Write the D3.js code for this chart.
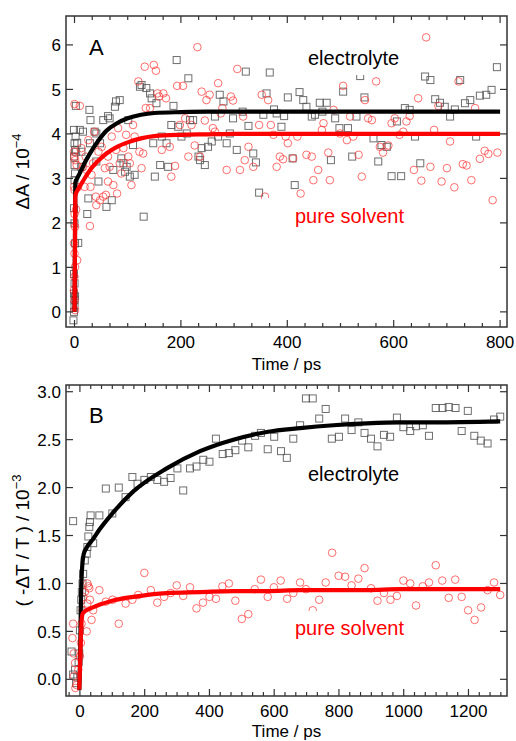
<!DOCTYPE html>
<html><head><meta charset="utf-8">
<script src="https://cdn.jsdelivr.net/npm/d3@7"></script>
<style>html,body{margin:0;padding:0;background:#fff;}svg{display:block;font-family:"Liberation Sans",Arial,sans-serif;}</style>
</head><body>
<svg id="chart" width="516" height="741"></svg>
<script>
// ---------- Panel A data ----------
const xTicksA = [0, 200, 400, 600, 800];
const yTicksA = [0, 1, 2, 3, 4, 5, 6];
const elecA = [[-2,-0.19],[-1,0.0],[0,0.15],[0,0.26],[1,0.35],[-1,0.41],[0,0.64],[-1,0.85],[1,1.54],[0,1.99],[-1,2.33],[0,2.96],[1,3.11],[0,3.3],[-1,3.49],[1,3.64],[0,3.79],[2,3.94],[-1,4.09],[7,1.55],[2.5,4.63],[3,3.6],[5,3.8],
[10,4.09],[13,3.6],[16,4.05],[13,3.26],[24,2.2],[26,2.55],[28,4.54],[30,4.31],[29,3.79],[38,4.05],[41,4.01],[45,2.93],[41,3.38],[48,3.79],[54,4.31],[60,2.36],[63,4.4],[66,4.35],[70,2.51],[73,3.19],[76,4.61],[78,4.73],[85,4.76],[88,3.45],[92,3.34],[95,3.15],[98,3.26],[101,4.31],[104,3.04],[110,3.75],[113,3.08],[123,5.06],[126,5.1],[130,2.14],[135,5.03],[142,4.91],[145,4.8],[148,3.79],[151,3.04],[154,4.69],[161,3.3],[164,3.94],[173,3.79],[176,3.26],[182,4.2],[186,4.63],[192,5.66],[195,4.16],[201,3.94],[211,4.01],[214,5.25],[217,4.31],[223,4.31],[233,3.49],[236,3.41],[239,3.68],[245,3.3],[251,3.71],[258,3.83],[264,4.39],[270,3.94],[273,4.88],[280,4.73],[286,3.79],[292,4.01],[298,4.35],[305,3.64],[316,4.5],[322,5.4],[327,4.18],[336,3.56],[341,3.36],[347,2.68],[355,4.43],[361,4.91],[367,5.38],[375,4.55],[380,4.46],[389,4.16],[394,4.4],[401,4.82],[410,3.45],[414,2.85],[423,4.94],[430,4.76],[436,4.61],[446,4.39],[452,4.43],[461,4.7],[466,4.5],[474,4.7],[482,3.41],[490,4.35],[498,4.13],[505,4.95],[514,4.13],[522,3.49],[530,4.39],[537,5.3],[545,4.82],[562,3.9],[571,3.38],[577,3.75],[587,3.71],[596,3.05],[606,4.28],[614,3.05],[621,4.58],[630,4.54],[640,3.94],[650,3.34],[659,5.29],[669,5.21],[678,4.78],[687,4.7],[696,4.61],[706,4.39],[715,4.55],[725,5.21],[734,4.69],[744,4.76],[755,3.94],[762,4.86],[774,4.88],[784,4.99],[794,5.5]];
const solvA = [[0,4.67],[-1,3.6],[0,3.49],[1,3.41],[-1,2.81],[0,2.74],[0,2.2],[1,1.91],[-1,1.54],[0,1.31],[1,1.01],[0,0.79],[-1,0.49],[0,0.26],[1,0.04],[5,1.16],[3,2.3],[6,2.8],[4,3.3],
[10,4.63],[13,3.68],[16,3.26],[19,2.81],[21,3.49],[23,3.19],[26,3.86],[29,1.93],[30,2.81],[32,3.08],[35,3.34],[37,4.05],[40,2.59],[41,2.4],[45,3.6],[48,2.51],[51,3.71],[54,2.59],[57,3.23],[59,2.63],[63,2.93],[63,3.49],[66,3.26],[70,3.94],[73,2.85],[78,3.64],[80,2.66],[82,4.13],[85,3.34],[88,3.11],[92,3.68],[97,3.98],[101,3.49],[104,3.34],[107,2.85],[110,4.2],[113,3.94],[120,5.18],[122,3.6],[126,3.23],[129,3.56],[132,5.51],[134,4.58],[142,4.58],[149,5.55],[153,5.42],[156,4.91],[159,4.84],[164,3.64],[167,4.91],[172,4.8],[179,3.71],[182,3.04],[189,3.28],[193,5.08],[198,4.2],[204,5.08],[208,4.35],[214,3.49],[220,4.2],[226,3.74],[231,5.95],[236,3.49],[239,4.95],[245,4.3],[248,4.76],[254,4.88],[260,4.13],[264,4.05],[270,5.14],[275,4.46],[278,4.58],[286,3.19],[294,4.84],[298,4.75],[306,5.46],[311,3.19],[317,4.39],[320,3.41],[327,3.71],[336,3.26],[347,4.2],[352,4.88],[358,2.59],[364,4.76],[369,4.2],[374,3.98],[380,3.26],[386,3.49],[392,3.43],[397,3.94],[401,3.79],[411,3.45],[419,3.94],[425,2.66],[436,3.53],[446,3.49],[449,2.96],[458,3.19],[465,4.09],[468,4.24],[477,3.58],[480,2.96],[487,4.54],[499,4.01],[505,5.08],[512,3.86],[518,4.39],[524,3.94],[534,3.53],[540,3.04],[546,4.76],[552,4.35],[559,4.31],[567,5.18],[574,3.71],[580,3.58],[590,3.74],[596,4.24],[602,4.35],[611,3.98],[618,4.05],[624,4.28],[630,4.4],[638,3.19],[646,4.8],[652,2.95],[661,6.17],[669,3.26],[676,4.09],[684,4.63],[690,2.93],[700,3.23],[706,3.83],[714,2.8],[722,5.18],[730,3.32],[737,3.29],[746,2.96],[753,4.58],[762,3.44],[771,3.62],[778,3.55],[786,2.51],[795,3.58]];
const fitA_t    = [0, 1.5, 5, 10, 20, 30, 45, 60, 80, 100, 125, 150, 200, 250, 300, 800];
const fitA_elec = [0, 2.9, 3.0, 3.12, 3.37, 3.58, 3.85, 4.07, 4.24, 4.35, 4.43, 4.47, 4.49, 4.5, 4.5, 4.5];
const fitA_solv = [0, 2.6, 2.72, 2.82, 3.02, 3.2, 3.4, 3.56, 3.71, 3.81, 3.9, 3.95, 3.98, 3.99, 4.0, 4.0];

// ---------- Panel B data ----------
const xTicksB = [0, 200, 400, 600, 800, 1000, 1200];
const yTicksB = [0, 0.5, 1.0, 1.5, 2.0, 2.5, 3.0];
const elecB = [[-26,0.29],[-21,0.05],[-15,0.1],[-12,-0.04],[-8,0.02],[-4,0.18],[-2,0.27],[0,0.51],[2,0.72],[4,0.83],[6,0.91],[8,1.0],[10,1.1],[15,1.24],[21,1.31],[23,1.38],[26,1.49],[29,1.59],[31,1.64],[33,1.71],[41,1.42],[-21,1.65],
[60,1.71],[80,1.99],[100,1.73],[120,2.0],[141,1.9],[162,2.11],[178,2.04],[199,2.08],[219,2.11],[239,2.08],[260,2.06],[280,2.1],[301,2.2],[319,1.97],[340,2.2],[360,2.22],[381,2.29],[400,2.27],[420,2.51],[441,2.35],[460,2.36],[480,2.39],[501,2.49],[520,2.42],[541,2.54],[559,2.57],[580,2.4],[600,2.53],[621,2.38],[639,2.31],[659,2.51],[680,2.65],[698,2.93],[719,2.93],[739,2.72],[759,2.82],[778,2.51],[800,2.53],[819,2.72],[839,2.6],[860,2.68],[879,2.57],[899,2.51],[919,2.43],[939,2.55],[958,2.53],[979,2.73],[999,2.63],[1020,2.59],[1038,2.64],[1059,2.65],[1078,2.54],[1099,2.83],[1120,2.83],[1139,2.84],[1160,2.83],[1179,2.59],[1198,2.8],[1218,2.54],[1238,2.49],[1259,2.46],[1279,2.71],[1298,2.74]];
const solvB = [[-21,0.58],[-23,0.43],[-19,0.27],[-15,0.17],[-19,0.03],[-14,-0.09],[-10,-0.06],[-5,0.1],[0,0.24],[3,0.38],[5,0.58],[8,0.72],[10,0.86],[15,0.91],[23,1.0],[26,0.97],[29,0.95],[21,0.5],[23,0.79],[36,0.62],[41,0.72],[31,0.83],
[60,0.93],[80,0.81],[101,0.83],[120,0.58],[141,0.79],[162,0.83],[180,0.88],[199,1.11],[219,0.93],[239,0.8],[260,0.86],[280,0.9],[299,0.98],[319,0.87],[340,0.96],[360,0.74],[380,0.8],[400,0.86],[420,0.84],[440,0.97],[460,1.0],[480,0.82],[500,0.63],[520,0.68],[540,0.94],[559,1.04],[580,0.86],[599,0.96],[620,1.03],[640,0.84],[659,0.9],[680,1.01],[698,0.94],[719,0.72],[739,0.83],[759,1.01],[779,1.32],[799,1.08],[819,1.07],[839,0.98],[860,1.05],[879,1.16],[899,0.95],[919,0.82],[939,0.9],[959,0.83],[979,0.87],[999,1.03],[1020,1.0],[1038,0.77],[1059,0.97],[1078,1.01],[1099,1.19],[1119,1.03],[1139,0.85],[1159,1.04],[1179,0.86],[1199,0.72],[1219,0.62],[1239,0.75],[1259,0.93],[1279,1.01],[1298,0.88]];
const fitB_t    = [-2, 1, 3, 5, 8, 12, 20, 40, 62, 100, 165, 268, 371, 474, 577, 680, 783, 886, 989, 1092, 1298];
const fitB_elec = [-0.11, 0.3, 0.8, 1.05, 1.22, 1.31, 1.37, 1.46, 1.57, 1.73, 1.96, 2.2, 2.38, 2.5, 2.58, 2.62, 2.65, 2.67, 2.68, 2.68, 2.69];
const fitB_solv = [-0.11, 0.2, 0.45, 0.6, 0.68, 0.7, 0.72, 0.75, 0.78, 0.82, 0.86, 0.9, 0.91, 0.92, 0.92, 0.93, 0.93, 0.93, 0.94, 0.94, 0.94];

const svg = d3.select("#chart");
const L = 66, R = 507;
const FRAME = "#333";

function panel(cfg) {
  const x = d3.scaleLinear().domain(cfg.xDom).range([L, R]);
  const y = d3.scaleLinear().domain(cfg.yDom).range([cfg.bottom, cfg.top]);
  const g = svg.append("g");
  const sq = 7;
  g.append("g").selectAll("rect").data(cfg.elec).join("rect")
    .attr("x", d => x(d[0]) - sq/2).attr("y", d => y(d[1]) - sq/2)
    .attr("width", sq).attr("height", sq)
    .attr("fill", "none").attr("stroke", "#555").attr("stroke-opacity", 0.85).attr("stroke-width", 1);
  g.append("g").selectAll("circle").data(cfg.solv).join("circle")
    .attr("cx", d => x(d[0])).attr("cy", d => y(d[1])).attr("r", 3.8)
    .attr("fill", "none").attr("stroke", "#ff3030").attr("stroke-opacity", 0.7).attr("stroke-width", 1);
  cfg.boxes.forEach(b => g.append("rect").attr("x", b[0]).attr("y", b[1]).attr("width", b[2]).attr("height", b[3]).attr("fill", "#fff"));
  const line = d3.line().x(d => x(d[0])).y(d => y(d[1])).curve(d3.curveMonotoneX);
  const fe = cfg.fitT.map((t, i) => [t, cfg.fitE[i]]);
  const fs = cfg.fitT.map((t, i) => [t, cfg.fitS[i]]);
  g.append("path").attr("d", line(fe)).attr("fill", "none").attr("stroke", "#000").attr("stroke-width", 4.2).attr("stroke-linejoin", "round");
  g.append("path").attr("d", line(fs)).attr("fill", "none").attr("stroke", "#f00").attr("stroke-width", 4.2).attr("stroke-linejoin", "round");
  g.append("rect").attr("x", L).attr("y", cfg.top).attr("width", R - L).attr("height", cfg.bottom - cfg.top)
    .attr("fill", "none").attr("stroke", FRAME).attr("stroke-width", 1.5);
  const tk = g.append("g").attr("stroke", FRAME).attr("stroke-width", 1.2);
  const step = cfg.xTicks[1] - cfg.xTicks[0];
  const minorStep = step / 6;
  const minors = [];
  for (let v = cfg.xTicks[0] - step; v <= cfg.xDom[1]; v += minorStep) {
    if (v >= cfg.xDom[0] && v <= cfg.xDom[1]) minors.push(v);
  }
  minors.forEach(v => {
    const isMajor = Math.abs(Math.round(v / step) * step - v) < 1e-6;
    const len = isMajor ? 7 : 4;
    tk.append("line").attr("x1", x(v)).attr("x2", x(v)).attr("y1", cfg.bottom).attr("y2", cfg.bottom - len);
    tk.append("line").attr("x1", x(v)).attr("x2", x(v)).attr("y1", cfg.top).attr("y2", cfg.top + len);
  });
  cfg.yTicks.forEach(v => {
    tk.append("line").attr("x1", L).attr("x2", L + 7).attr("y1", y(v)).attr("y2", y(v));
    tk.append("line").attr("x1", R).attr("x2", R - 7).attr("y1", y(v)).attr("y2", y(v));
  });
  g.append("g").selectAll("text").data(cfg.xTicks).join("text")
    .attr("x", d => x(d)).attr("y", cfg.bottom + 21).attr("text-anchor", "middle")
    .attr("font-size", 17).attr("fill", "#000").text(d => d);
  g.append("g").selectAll("text").data(cfg.yTicks).join("text")
    .attr("x", 61).attr("y", d => y(d)).attr("dy", "0.36em").attr("text-anchor", "end")
    .attr("font-size", 17).attr("fill", "#000").text(cfg.yFmt);
  g.append("text").attr("x", (L + R) / 2).attr("y", cfg.xTitleY).attr("text-anchor", "middle")
    .attr("font-size", 17).text("Time / ps");
  const yt = g.append("text").attr("transform", `translate(${cfg.yTitleX},${(cfg.top + cfg.bottom) / 2}) rotate(-90)`)
    .attr("text-anchor", "middle").attr("font-size", 19);
  yt.append("tspan").text(cfg.yTitle);
  yt.append("tspan").attr("font-size", 13).attr("dy", -8).text(cfg.yExp);
  g.append("text").attr("x", 89).attr("y", cfg.letterY).attr("font-size", 22).text(cfg.letter);
  g.append("text").attr("x", 308).attr("y", cfg.elecY).attr("font-size", 20).attr("fill", "#000").text("electrolyte");
  g.append("text").attr("x", 295).attr("y", cfg.solvY).attr("font-size", 20).attr("fill", "#f00").text("pure solvent");
}

panel({
  top: 16, bottom: 327, xDom: [-16, 813], yDom: [-0.34, 6.65],
  xTicks: xTicksA, yTicks: yTicksA, yFmt: d => d,
  elec: elecA, solv: solvA, fitT: fitA_t, fitE: fitA_elec, fitS: fitA_solv,
  yTitle: "\u0394A / 10", yExp: "\u22124", yTitleX: 29, xTitleY: 370,
  letter: "A", letterY: 55, elecY: 65, solvY: 223,
  boxes: [[300, 44, 112, 31], [262, 198, 150, 32]]
});
panel({
  top: 385, bottom: 696, xDom: [-43, 1319], yDom: [-0.174, 3.07],
  xTicks: xTicksB, yTicks: yTicksB, yFmt: d => d.toFixed(1),
  elec: elecB, solv: solvB, fitT: fitB_t, fitE: fitB_elec, fitS: fitB_solv,
  yTitle: "( -\u0394T / T ) / 10", yExp: "\u22123", yTitleX: 29, xTitleY: 737,
  letter: "B", letterY: 423, elecY: 481, solvY: 635,
  boxes: [[300, 460, 112, 30], [290, 611, 120, 31]]
});
</script>
</body></html>
